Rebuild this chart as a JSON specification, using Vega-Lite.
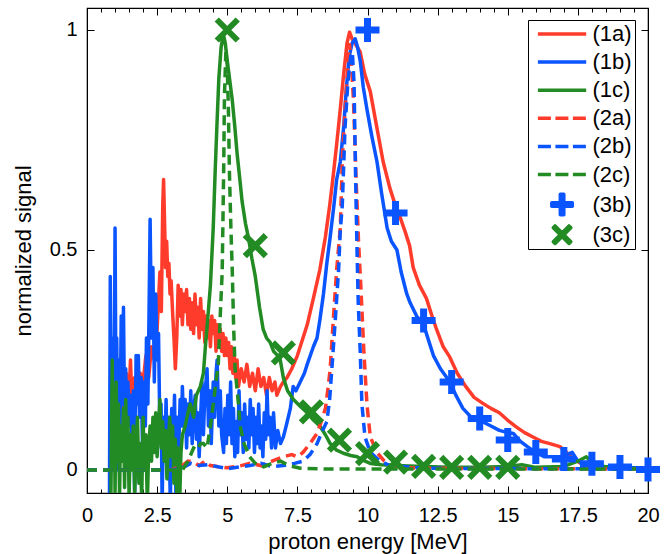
{
"$schema": "https://vega.github.io/schema/vega-lite/v6.json",
"width": 561, "height": 485,
"autosize": {"type": "none"},
"padding": {"left": 87, "top": 8, "right": 20, "bottom": 61},
"background": "white",
"config": {"view": {"stroke": "black", "strokeWidth": 1.2}, "font": "Liberation Sans"},
"datasets": {
"solid": [
{"s":"(1a)","x":0.9,"y":0.05},{"s":"(1a)","x":0.95,"y":0.18},{"s":"(1a)","x":1.0,"y":0.1},{"s":"(1a)","x":1.05,"y":0.22},{"s":"(1a)","x":1.1,"y":0.14},{"s":"(1a)","x":1.2,"y":0.2},{"s":"(1a)","x":1.3,"y":0.12},{"s":"(1a)","x":1.4,"y":0.22},{"s":"(1a)","x":1.5,"y":0.17},{"s":"(1a)","x":1.55,"y":0.25},{"s":"(1a)","x":1.6,"y":0.16},{"s":"(1a)","x":1.7,"y":0.21},{"s":"(1a)","x":1.8,"y":0.16},{"s":"(1a)","x":1.9,"y":0.22},{"s":"(1a)","x":2.0,"y":0.2},{"s":"(1a)","x":2.1,"y":0.26},{"s":"(1a)","x":2.2,"y":0.21},{"s":"(1a)","x":2.3,"y":0.28},{"s":"(1a)","x":2.4,"y":0.25},{"s":"(1a)","x":2.5,"y":0.32},{"s":"(1a)","x":2.6,"y":0.45},{"s":"(1a)","x":2.65,"y":0.36},{"s":"(1a)","x":2.7,"y":0.6},{"s":"(1a)","x":2.73,"y":0.66},{"s":"(1a)","x":2.77,"y":0.55},{"s":"(1a)","x":2.8,"y":0.46},{"s":"(1a)","x":2.84,"y":0.52},{"s":"(1a)","x":2.88,"y":0.44},{"s":"(1a)","x":2.92,"y":0.47},{"s":"(1a)","x":2.96,"y":0.4},{"s":"(1a)","x":3.0,"y":0.43},{"s":"(1a)","x":3.05,"y":0.36},{"s":"(1a)","x":3.1,"y":0.3},{"s":"(1a)","x":3.15,"y":0.23},{"s":"(1a)","x":3.2,"y":0.3},{"s":"(1a)","x":3.25,"y":0.42},{"s":"(1a)","x":3.3,"y":0.35},{"s":"(1a)","x":3.35,"y":0.41},{"s":"(1a)","x":3.4,"y":0.33},{"s":"(1a)","x":3.45,"y":0.4},{"s":"(1a)","x":3.5,"y":0.36},{"s":"(1a)","x":3.55,"y":0.41},{"s":"(1a)","x":3.6,"y":0.33},{"s":"(1a)","x":3.65,"y":0.39},{"s":"(1a)","x":3.7,"y":0.32},{"s":"(1a)","x":3.75,"y":0.38},{"s":"(1a)","x":3.8,"y":0.31},{"s":"(1a)","x":3.85,"y":0.4},{"s":"(1a)","x":3.9,"y":0.33},{"s":"(1a)","x":3.95,"y":0.37},{"s":"(1a)","x":4.0,"y":0.3},{"s":"(1a)","x":4.05,"y":0.39},{"s":"(1a)","x":4.1,"y":0.32},{"s":"(1a)","x":4.15,"y":0.36},{"s":"(1a)","x":4.2,"y":0.29},{"s":"(1a)","x":4.25,"y":0.35},{"s":"(1a)","x":4.3,"y":0.3},{"s":"(1a)","x":4.35,"y":0.34},{"s":"(1a)","x":4.4,"y":0.28},{"s":"(1a)","x":4.45,"y":0.35},{"s":"(1a)","x":4.5,"y":0.31},{"s":"(1a)","x":4.55,"y":0.34},{"s":"(1a)","x":4.6,"y":0.27},{"s":"(1a)","x":4.65,"y":0.33},{"s":"(1a)","x":4.7,"y":0.29},{"s":"(1a)","x":4.75,"y":0.32},{"s":"(1a)","x":4.8,"y":0.27},{"s":"(1a)","x":4.85,"y":0.31},{"s":"(1a)","x":4.9,"y":0.26},{"s":"(1a)","x":4.95,"y":0.3},{"s":"(1a)","x":5.0,"y":0.26},{"s":"(1a)","x":5.05,"y":0.29},{"s":"(1a)","x":5.1,"y":0.23},{"s":"(1a)","x":5.15,"y":0.28},{"s":"(1a)","x":5.2,"y":0.22},{"s":"(1a)","x":5.25,"y":0.26},{"s":"(1a)","x":5.3,"y":0.21},{"s":"(1a)","x":5.35,"y":0.25},{"s":"(1a)","x":5.4,"y":0.19},{"s":"(1a)","x":5.5,"y":0.23},{"s":"(1a)","x":5.6,"y":0.2},{"s":"(1a)","x":5.7,"y":0.24},{"s":"(1a)","x":5.8,"y":0.19},{"s":"(1a)","x":5.9,"y":0.22},{"s":"(1a)","x":6.0,"y":0.18},{"s":"(1a)","x":6.1,"y":0.23},{"s":"(1a)","x":6.2,"y":0.19},{"s":"(1a)","x":6.3,"y":0.21},{"s":"(1a)","x":6.4,"y":0.17},{"s":"(1a)","x":6.5,"y":0.21},{"s":"(1a)","x":6.6,"y":0.18},{"s":"(1a)","x":6.7,"y":0.2},{"s":"(1a)","x":6.77,"y":0.17},{"s":"(1a)","x":6.9,"y":0.19},{"s":"(1a)","x":7.0,"y":0.2},{"s":"(1a)","x":7.13,"y":0.21},{"s":"(1a)","x":7.3,"y":0.23},{"s":"(1a)","x":7.5,"y":0.26},{"s":"(1a)","x":7.7,"y":0.3},{"s":"(1a)","x":7.85,"y":0.33},{"s":"(1a)","x":8.07,"y":0.39},{"s":"(1a)","x":8.3,"y":0.455},{"s":"(1a)","x":8.5,"y":0.53},{"s":"(1a)","x":8.65,"y":0.6},{"s":"(1a)","x":8.78,"y":0.67},{"s":"(1a)","x":8.9,"y":0.74},{"s":"(1a)","x":9.03,"y":0.82},{"s":"(1a)","x":9.15,"y":0.9},{"s":"(1a)","x":9.27,"y":0.97},{"s":"(1a)","x":9.36,"y":0.995},{"s":"(1a)","x":9.45,"y":0.98},{"s":"(1a)","x":9.55,"y":0.97},{"s":"(1a)","x":9.74,"y":0.95},{"s":"(1a)","x":9.9,"y":0.9},{"s":"(1a)","x":10.1,"y":0.86},{"s":"(1a)","x":10.3,"y":0.79},{"s":"(1a)","x":10.56,"y":0.7},{"s":"(1a)","x":10.8,"y":0.64},{"s":"(1a)","x":11.0,"y":0.6},{"s":"(1a)","x":11.16,"y":0.575},{"s":"(1a)","x":11.35,"y":0.54},{"s":"(1a)","x":11.5,"y":0.51},{"s":"(1a)","x":11.63,"y":0.46},{"s":"(1a)","x":11.85,"y":0.42},{"s":"(1a)","x":12.1,"y":0.39},{"s":"(1a)","x":12.3,"y":0.35},{"s":"(1a)","x":12.46,"y":0.32},{"s":"(1a)","x":12.7,"y":0.28},{"s":"(1a)","x":12.93,"y":0.257},{"s":"(1a)","x":13.2,"y":0.22},{"s":"(1a)","x":13.5,"y":0.19},{"s":"(1a)","x":13.8,"y":0.165},{"s":"(1a)","x":14.1,"y":0.152},{"s":"(1a)","x":14.4,"y":0.14},{"s":"(1a)","x":14.7,"y":0.13},{"s":"(1a)","x":15.0,"y":0.113},{"s":"(1a)","x":15.3,"y":0.098},{"s":"(1a)","x":15.6,"y":0.085},{"s":"(1a)","x":15.9,"y":0.075},{"s":"(1a)","x":16.2,"y":0.065},{"s":"(1a)","x":16.5,"y":0.06},{"s":"(1a)","x":16.86,"y":0.053},{"s":"(1a)","x":17.1,"y":0.04},{"s":"(1a)","x":17.3,"y":0.027},{"s":"(1a)","x":17.6,"y":0.015},{"s":"(1a)","x":18.0,"y":0.01},{"s":"(1a)","x":18.3,"y":0.008},{"s":"(1a)","x":19.0,"y":0.005},{"s":"(1a)","x":20.0,"y":0.004},
{"s":"(1b)","x":0.8,"y":-0.08},{"s":"(1b)","x":0.83,"y":0.44},{"s":"(1b)","x":0.87,"y":0.1},{"s":"(1b)","x":0.92,"y":0.3},{"s":"(1b)","x":0.96,"y":0.05},{"s":"(1b)","x":1.0,"y":0.55},{"s":"(1b)","x":1.03,"y":0.2},{"s":"(1b)","x":1.06,"y":0.3},{"s":"(1b)","x":1.1,"y":0.0},{"s":"(1b)","x":1.14,"y":0.25},{"s":"(1b)","x":1.18,"y":0.1},{"s":"(1b)","x":1.22,"y":0.35},{"s":"(1b)","x":1.26,"y":0.15},{"s":"(1b)","x":1.3,"y":0.37},{"s":"(1b)","x":1.34,"y":0.12},{"s":"(1b)","x":1.38,"y":0.23},{"s":"(1b)","x":1.42,"y":0.05},{"s":"(1b)","x":1.46,"y":0.2},{"s":"(1b)","x":1.5,"y":0.1},{"s":"(1b)","x":1.55,"y":0.17},{"s":"(1b)","x":1.6,"y":0.08},{"s":"(1b)","x":1.65,"y":0.18},{"s":"(1b)","x":1.7,"y":-0.06},{"s":"(1b)","x":1.75,"y":0.26},{"s":"(1b)","x":1.8,"y":0.15},{"s":"(1b)","x":1.83,"y":0.26},{"s":"(1b)","x":1.88,"y":0.12},{"s":"(1b)","x":1.93,"y":0.21},{"s":"(1b)","x":1.98,"y":0.05},{"s":"(1b)","x":2.03,"y":0.2},{"s":"(1b)","x":2.08,"y":0.1},{"s":"(1b)","x":2.12,"y":0.3},{"s":"(1b)","x":2.17,"y":0.15},{"s":"(1b)","x":2.21,"y":0.35},{"s":"(1b)","x":2.25,"y":0.57},{"s":"(1b)","x":2.3,"y":0.3},{"s":"(1b)","x":2.35,"y":0.46},{"s":"(1b)","x":2.4,"y":0.2},{"s":"(1b)","x":2.45,"y":0.4},{"s":"(1b)","x":2.5,"y":0.25},{"s":"(1b)","x":2.55,"y":0.31},{"s":"(1b)","x":2.6,"y":0.08},{"s":"(1b)","x":2.64,"y":0.15},{"s":"(1b)","x":2.68,"y":-0.08},{"s":"(1b)","x":2.72,"y":0.12},{"s":"(1b)","x":2.77,"y":0.05},{"s":"(1b)","x":2.82,"y":0.16},{"s":"(1b)","x":2.87,"y":-0.02},{"s":"(1b)","x":2.92,"y":0.12},{"s":"(1b)","x":2.97,"y":-0.08},{"s":"(1b)","x":3.02,"y":0.14},{"s":"(1b)","x":3.07,"y":0.05},{"s":"(1b)","x":3.12,"y":0.17},{"s":"(1b)","x":3.17,"y":-0.06},{"s":"(1b)","x":3.22,"y":0.12},{"s":"(1b)","x":3.27,"y":0.05},{"s":"(1b)","x":3.32,"y":0.16},{"s":"(1b)","x":3.37,"y":0.1},{"s":"(1b)","x":3.4,"y":0.19},{"s":"(1b)","x":3.45,"y":0.1},{"s":"(1b)","x":3.5,"y":0.16},{"s":"(1b)","x":3.55,"y":0.05},{"s":"(1b)","x":3.6,"y":0.15},{"s":"(1b)","x":3.65,"y":0.08},{"s":"(1b)","x":3.7,"y":0.18},{"s":"(1b)","x":3.75,"y":0.06},{"s":"(1b)","x":3.8,"y":0.14},{"s":"(1b)","x":3.86,"y":0.17},{"s":"(1b)","x":3.9,"y":0.07},{"s":"(1b)","x":3.95,"y":0.13},{"s":"(1b)","x":4.0,"y":0.03},{"s":"(1b)","x":4.05,"y":0.12},{"s":"(1b)","x":4.1,"y":0.2},{"s":"(1b)","x":4.15,"y":0.08},{"s":"(1b)","x":4.2,"y":0.17},{"s":"(1b)","x":4.28,"y":0.23},{"s":"(1b)","x":4.33,"y":0.1},{"s":"(1b)","x":4.38,"y":0.18},{"s":"(1b)","x":4.43,"y":0.06},{"s":"(1b)","x":4.5,"y":0.2},{"s":"(1b)","x":4.55,"y":0.12},{"s":"(1b)","x":4.6,"y":0.22},{"s":"(1b)","x":4.64,"y":0.25},{"s":"(1b)","x":4.7,"y":0.1},{"s":"(1b)","x":4.75,"y":0.18},{"s":"(1b)","x":4.8,"y":0.08},{"s":"(1b)","x":4.87,"y":0.04},{"s":"(1b)","x":4.92,"y":0.14},{"s":"(1b)","x":4.97,"y":0.06},{"s":"(1b)","x":5.02,"y":0.17},{"s":"(1b)","x":5.07,"y":0.08},{"s":"(1b)","x":5.12,"y":0.2},{"s":"(1b)","x":5.17,"y":0.06},{"s":"(1b)","x":5.22,"y":0.14},{"s":"(1b)","x":5.27,"y":0.03},{"s":"(1b)","x":5.32,"y":0.11},{"s":"(1b)","x":5.37,"y":0.04},{"s":"(1b)","x":5.42,"y":0.18},{"s":"(1b)","x":5.47,"y":0.08},{"s":"(1b)","x":5.52,"y":0.13},{"s":"(1b)","x":5.57,"y":0.04},{"s":"(1b)","x":5.62,"y":0.15},{"s":"(1b)","x":5.67,"y":0.07},{"s":"(1b)","x":5.72,"y":0.12},{"s":"(1b)","x":5.77,"y":0.05},{"s":"(1b)","x":5.82,"y":0.16},{"s":"(1b)","x":5.87,"y":0.08},{"s":"(1b)","x":5.92,"y":0.14},{"s":"(1b)","x":5.97,"y":0.04},{"s":"(1b)","x":6.02,"y":0.12},{"s":"(1b)","x":6.07,"y":0.06},{"s":"(1b)","x":6.12,"y":0.15},{"s":"(1b)","x":6.17,"y":0.05},{"s":"(1b)","x":6.22,"y":0.1},{"s":"(1b)","x":6.27,"y":0.03},{"s":"(1b)","x":6.32,"y":0.13},{"s":"(1b)","x":6.37,"y":0.07},{"s":"(1b)","x":6.42,"y":0.18},{"s":"(1b)","x":6.47,"y":0.08},{"s":"(1b)","x":6.52,"y":0.12},{"s":"(1b)","x":6.58,"y":0.05},{"s":"(1b)","x":6.65,"y":0.13},{"s":"(1b)","x":6.72,"y":0.05},{"s":"(1b)","x":6.8,"y":0.09},{"s":"(1b)","x":6.9,"y":0.06},{"s":"(1b)","x":7.0,"y":0.075},{"s":"(1b)","x":7.1,"y":0.1},{"s":"(1b)","x":7.25,"y":0.14},{"s":"(1b)","x":7.35,"y":0.19},{"s":"(1b)","x":7.45,"y":0.18},{"s":"(1b)","x":7.6,"y":0.2},{"s":"(1b)","x":7.75,"y":0.22},{"s":"(1b)","x":7.85,"y":0.24},{"s":"(1b)","x":8.07,"y":0.28},{"s":"(1b)","x":8.2,"y":0.3},{"s":"(1b)","x":8.3,"y":0.34},{"s":"(1b)","x":8.43,"y":0.4},{"s":"(1b)","x":8.55,"y":0.47},{"s":"(1b)","x":8.67,"y":0.53},{"s":"(1b)","x":8.8,"y":0.6},{"s":"(1b)","x":8.9,"y":0.66},{"s":"(1b)","x":9.03,"y":0.7},{"s":"(1b)","x":9.15,"y":0.78},{"s":"(1b)","x":9.25,"y":0.87},{"s":"(1b)","x":9.35,"y":0.94},{"s":"(1b)","x":9.45,"y":0.97},{"s":"(1b)","x":9.56,"y":0.98},{"s":"(1b)","x":9.65,"y":0.96},{"s":"(1b)","x":9.74,"y":0.93},{"s":"(1b)","x":9.85,"y":0.87},{"s":"(1b)","x":9.98,"y":0.82},{"s":"(1b)","x":10.15,"y":0.76},{"s":"(1b)","x":10.34,"y":0.7},{"s":"(1b)","x":10.5,"y":0.63},{"s":"(1b)","x":10.7,"y":0.55},{"s":"(1b)","x":10.85,"y":0.52},{"s":"(1b)","x":11.05,"y":0.5},{"s":"(1b)","x":11.2,"y":0.45},{"s":"(1b)","x":11.4,"y":0.4},{"s":"(1b)","x":11.52,"y":0.38},{"s":"(1b)","x":11.75,"y":0.35},{"s":"(1b)","x":12.0,"y":0.33},{"s":"(1b)","x":12.2,"y":0.29},{"s":"(1b)","x":12.35,"y":0.26},{"s":"(1b)","x":12.6,"y":0.23},{"s":"(1b)","x":12.94,"y":0.2},{"s":"(1b)","x":13.15,"y":0.17},{"s":"(1b)","x":13.4,"y":0.14},{"s":"(1b)","x":13.7,"y":0.12},{"s":"(1b)","x":14.1,"y":0.11},{"s":"(1b)","x":14.4,"y":0.1},{"s":"(1b)","x":14.7,"y":0.09},{"s":"(1b)","x":15.0,"y":0.085},{"s":"(1b)","x":15.2,"y":0.083},{"s":"(1b)","x":15.45,"y":0.065},{"s":"(1b)","x":15.7,"y":0.053},{"s":"(1b)","x":16.0,"y":0.04},{"s":"(1b)","x":16.3,"y":0.03},{"s":"(1b)","x":16.6,"y":0.03},{"s":"(1b)","x":16.86,"y":0.03},{"s":"(1b)","x":17.1,"y":0.035},{"s":"(1b)","x":17.3,"y":0.04},{"s":"(1b)","x":17.5,"y":0.02},{"s":"(1b)","x":17.7,"y":0.015},{"s":"(1b)","x":18.2,"y":0.008},{"s":"(1b)","x":19.0,"y":0.006},{"s":"(1b)","x":20.0,"y":0.004},
{"s":"(1c)","x":0.85,"y":-0.08},{"s":"(1c)","x":0.9,"y":0.25},{"s":"(1c)","x":0.93,"y":0.0},{"s":"(1c)","x":0.97,"y":0.18},{"s":"(1c)","x":1.0,"y":-0.05},{"s":"(1c)","x":1.04,"y":0.2},{"s":"(1c)","x":1.08,"y":0.02},{"s":"(1c)","x":1.12,"y":0.15},{"s":"(1c)","x":1.16,"y":-0.06},{"s":"(1c)","x":1.2,"y":0.1},{"s":"(1c)","x":1.25,"y":0.02},{"s":"(1c)","x":1.3,"y":0.14},{"s":"(1c)","x":1.34,"y":-0.04},{"s":"(1c)","x":1.38,"y":0.16},{"s":"(1c)","x":1.42,"y":0.0},{"s":"(1c)","x":1.46,"y":0.12},{"s":"(1c)","x":1.5,"y":-0.06},{"s":"(1c)","x":1.55,"y":0.08},{"s":"(1c)","x":1.6,"y":0.0},{"s":"(1c)","x":1.65,"y":0.1},{"s":"(1c)","x":1.7,"y":-0.05},{"s":"(1c)","x":1.75,"y":0.05},{"s":"(1c)","x":1.8,"y":0.12},{"s":"(1c)","x":1.85,"y":-0.03},{"s":"(1c)","x":1.9,"y":0.06},{"s":"(1c)","x":1.95,"y":-0.07},{"s":"(1c)","x":2.0,"y":0.12},{"s":"(1c)","x":2.05,"y":0.0},{"s":"(1c)","x":2.1,"y":0.08},{"s":"(1c)","x":2.15,"y":-0.08},{"s":"(1c)","x":2.2,"y":0.05},{"s":"(1c)","x":2.25,"y":0.1},{"s":"(1c)","x":2.3,"y":0.02},{"s":"(1c)","x":2.35,"y":0.12},{"s":"(1c)","x":2.4,"y":0.04},{"s":"(1c)","x":2.45,"y":0.13},{"s":"(1c)","x":2.5,"y":0.03},{"s":"(1c)","x":2.55,"y":0.1},{"s":"(1c)","x":2.6,"y":0.16},{"s":"(1c)","x":2.65,"y":0.05},{"s":"(1c)","x":2.7,"y":0.11},{"s":"(1c)","x":2.75,"y":0.02},{"s":"(1c)","x":2.8,"y":0.09},{"s":"(1c)","x":2.85,"y":-0.02},{"s":"(1c)","x":2.9,"y":0.06},{"s":"(1c)","x":2.95,"y":0.12},{"s":"(1c)","x":3.0,"y":0.03},{"s":"(1c)","x":3.05,"y":0.1},{"s":"(1c)","x":3.1,"y":-0.03},{"s":"(1c)","x":3.15,"y":0.07},{"s":"(1c)","x":3.2,"y":-0.05},{"s":"(1c)","x":3.25,"y":0.05},{"s":"(1c)","x":3.3,"y":-0.08},{"s":"(1c)","x":3.35,"y":0.04},{"s":"(1c)","x":3.4,"y":0.08},{"s":"(1c)","x":3.5,"y":0.1},{"s":"(1c)","x":3.6,"y":0.13},{"s":"(1c)","x":3.68,"y":0.15},{"s":"(1c)","x":3.8,"y":0.12},{"s":"(1c)","x":3.9,"y":0.17},{"s":"(1c)","x":4.04,"y":0.19},{"s":"(1c)","x":4.15,"y":0.22},{"s":"(1c)","x":4.22,"y":0.28},{"s":"(1c)","x":4.3,"y":0.34},{"s":"(1c)","x":4.4,"y":0.42},{"s":"(1c)","x":4.5,"y":0.55},{"s":"(1c)","x":4.57,"y":0.68},{"s":"(1c)","x":4.63,"y":0.78},{"s":"(1c)","x":4.7,"y":0.89},{"s":"(1c)","x":4.78,"y":0.96},{"s":"(1c)","x":4.86,"y":0.99},{"s":"(1c)","x":4.93,"y":0.97},{"s":"(1c)","x":5.0,"y":0.93},{"s":"(1c)","x":5.1,"y":0.88},{"s":"(1c)","x":5.18,"y":0.84},{"s":"(1c)","x":5.27,"y":0.78},{"s":"(1c)","x":5.35,"y":0.72},{"s":"(1c)","x":5.45,"y":0.66},{"s":"(1c)","x":5.53,"y":0.61},{"s":"(1c)","x":5.65,"y":0.56},{"s":"(1c)","x":5.75,"y":0.53},{"s":"(1c)","x":5.88,"y":0.48},{"s":"(1c)","x":6.0,"y":0.44},{"s":"(1c)","x":6.15,"y":0.37},{"s":"(1c)","x":6.28,"y":0.32},{"s":"(1c)","x":6.4,"y":0.3},{"s":"(1c)","x":6.53,"y":0.29},{"s":"(1c)","x":6.65,"y":0.27},{"s":"(1c)","x":6.8,"y":0.26},{"s":"(1c)","x":6.89,"y":0.25},{"s":"(1c)","x":7.0,"y":0.21},{"s":"(1c)","x":7.15,"y":0.18},{"s":"(1c)","x":7.36,"y":0.16},{"s":"(1c)","x":7.6,"y":0.145},{"s":"(1c)","x":7.85,"y":0.13},{"s":"(1c)","x":8.05,"y":0.115},{"s":"(1c)","x":8.3,"y":0.1},{"s":"(1c)","x":8.5,"y":0.08},{"s":"(1c)","x":8.67,"y":0.06},{"s":"(1c)","x":8.9,"y":0.045},{"s":"(1c)","x":9.14,"y":0.038},{"s":"(1c)","x":9.4,"y":0.033},{"s":"(1c)","x":9.63,"y":0.03},{"s":"(1c)","x":9.85,"y":0.022},{"s":"(1c)","x":10.1,"y":0.015},{"s":"(1c)","x":10.5,"y":0.012},{"s":"(1c)","x":11.0,"y":0.01},{"s":"(1c)","x":12.0,"y":0.008},{"s":"(1c)","x":13.0,"y":0.006},{"s":"(1c)","x":14.0,"y":0.006},{"s":"(1c)","x":15.0,"y":0.008},{"s":"(1c)","x":15.5,"y":0.012},{"s":"(1c)","x":16.0,"y":0.006},{"s":"(1c)","x":17.0,"y":0.008},{"s":"(1c)","x":17.5,"y":0.02},{"s":"(1c)","x":17.8,"y":0.03},{"s":"(1c)","x":18.1,"y":0.01},{"s":"(1c)","x":19.0,"y":0.004},{"s":"(1c)","x":20.0,"y":0.003}
],
"dashed": [
{"s":"(2a)","x":0,"y":0.0},{"s":"(2a)","x":3.0,"y":0.0},{"s":"(2a)","x":3.4,"y":0.01},{"s":"(2a)","x":3.6,"y":0.02},{"s":"(2a)","x":3.8,"y":0.018},{"s":"(2a)","x":4.0,"y":0.01},{"s":"(2a)","x":4.2,"y":0.02},{"s":"(2a)","x":4.4,"y":0.01},{"s":"(2a)","x":5.0,"y":0.005},{"s":"(2a)","x":5.5,"y":0.01},{"s":"(2a)","x":5.8,"y":0.015},{"s":"(2a)","x":6.2,"y":0.01},{"s":"(2a)","x":6.6,"y":0.02},{"s":"(2a)","x":7.0,"y":0.03},{"s":"(2a)","x":7.3,"y":0.035},{"s":"(2a)","x":7.5,"y":0.03},{"s":"(2a)","x":7.7,"y":0.04},{"s":"(2a)","x":7.95,"y":0.06},{"s":"(2a)","x":8.2,"y":0.083},{"s":"(2a)","x":8.35,"y":0.11},{"s":"(2a)","x":8.5,"y":0.14},{"s":"(2a)","x":8.6,"y":0.19},{"s":"(2a)","x":8.67,"y":0.23},{"s":"(2a)","x":8.78,"y":0.34},{"s":"(2a)","x":8.9,"y":0.455},{"s":"(2a)","x":9.03,"y":0.55},{"s":"(2a)","x":9.1,"y":0.7},{"s":"(2a)","x":9.2,"y":0.82},{"s":"(2a)","x":9.27,"y":0.89},{"s":"(2a)","x":9.35,"y":0.97},{"s":"(2a)","x":9.42,"y":0.93},{"s":"(2a)","x":9.5,"y":0.84},{"s":"(2a)","x":9.6,"y":0.65},{"s":"(2a)","x":9.68,"y":0.52},{"s":"(2a)","x":9.76,"y":0.42},{"s":"(2a)","x":9.87,"y":0.27},{"s":"(2a)","x":9.98,"y":0.15},{"s":"(2a)","x":10.1,"y":0.075},{"s":"(2a)","x":10.34,"y":0.04},{"s":"(2a)","x":10.6,"y":0.02},{"s":"(2a)","x":10.8,"y":0.012},{"s":"(2a)","x":11.2,"y":0.006},{"s":"(2a)","x":12.0,"y":0.004},{"s":"(2a)","x":20.0,"y":0.002},
{"s":"(2b)","x":0,"y":0.0},{"s":"(2b)","x":3.0,"y":0.0},{"s":"(2b)","x":3.4,"y":0.005},{"s":"(2b)","x":3.7,"y":0.015},{"s":"(2b)","x":4.0,"y":0.01},{"s":"(2b)","x":4.3,"y":0.012},{"s":"(2b)","x":5.0,"y":0.003},{"s":"(2b)","x":5.8,"y":0.01},{"s":"(2b)","x":6.2,"y":0.015},{"s":"(2b)","x":6.6,"y":0.008},{"s":"(2b)","x":7.0,"y":0.01},{"s":"(2b)","x":7.4,"y":0.015},{"s":"(2b)","x":7.7,"y":0.02},{"s":"(2b)","x":7.95,"y":0.035},{"s":"(2b)","x":8.2,"y":0.06},{"s":"(2b)","x":8.4,"y":0.09},{"s":"(2b)","x":8.55,"y":0.11},{"s":"(2b)","x":8.65,"y":0.16},{"s":"(2b)","x":8.73,"y":0.23},{"s":"(2b)","x":8.85,"y":0.34},{"s":"(2b)","x":8.97,"y":0.455},{"s":"(2b)","x":9.03,"y":0.545},{"s":"(2b)","x":9.1,"y":0.6},{"s":"(2b)","x":9.2,"y":0.78},{"s":"(2b)","x":9.3,"y":0.88},{"s":"(2b)","x":9.4,"y":0.94},{"s":"(2b)","x":9.46,"y":0.95},{"s":"(2b)","x":9.52,"y":0.88},{"s":"(2b)","x":9.58,"y":0.65},{"s":"(2b)","x":9.63,"y":0.49},{"s":"(2b)","x":9.67,"y":0.38},{"s":"(2b)","x":9.74,"y":0.27},{"s":"(2b)","x":9.8,"y":0.15},{"s":"(2b)","x":9.91,"y":0.075},{"s":"(2b)","x":10.1,"y":0.04},{"s":"(2b)","x":10.45,"y":0.02},{"s":"(2b)","x":10.8,"y":0.01},{"s":"(2b)","x":12.0,"y":0.004},{"s":"(2b)","x":20.0,"y":0.002},
{"s":"(2c)","x":0,"y":0.0},{"s":"(2c)","x":3.4,"y":0.0},{"s":"(2c)","x":3.6,"y":0.02},{"s":"(2c)","x":3.8,"y":0.05},{"s":"(2c)","x":3.93,"y":0.045},{"s":"(2c)","x":4.05,"y":0.06},{"s":"(2c)","x":4.15,"y":0.06},{"s":"(2c)","x":4.28,"y":0.05},{"s":"(2c)","x":4.4,"y":0.1},{"s":"(2c)","x":4.5,"y":0.15},{"s":"(2c)","x":4.6,"y":0.2},{"s":"(2c)","x":4.68,"y":0.24},{"s":"(2c)","x":4.75,"y":0.35},{"s":"(2c)","x":4.82,"y":0.45},{"s":"(2c)","x":4.87,"y":0.67},{"s":"(2c)","x":4.9,"y":0.85},{"s":"(2c)","x":4.95,"y":0.95},{"s":"(2c)","x":5.0,"y":0.92},{"s":"(2c)","x":5.04,"y":0.82},{"s":"(2c)","x":5.08,"y":0.67},{"s":"(2c)","x":5.13,"y":0.55},{"s":"(2c)","x":5.18,"y":0.45},{"s":"(2c)","x":5.23,"y":0.32},{"s":"(2c)","x":5.28,"y":0.23},{"s":"(2c)","x":5.4,"y":0.15},{"s":"(2c)","x":5.46,"y":0.1},{"s":"(2c)","x":5.6,"y":0.06},{"s":"(2c)","x":5.8,"y":0.03},{"s":"(2c)","x":6.0,"y":0.015},{"s":"(2c)","x":6.3,"y":0.007},{"s":"(2c)","x":6.6,"y":0.015},{"s":"(2c)","x":6.9,"y":0.02},{"s":"(2c)","x":7.2,"y":0.01},{"s":"(2c)","x":7.6,"y":0.004},{"s":"(2c)","x":8.5,"y":0.002},{"s":"(2c)","x":20.0,"y":0.002}
],
"plus": [
{"s":"(3b)","x":10,"y":1.0},{"s":"(3b)","x":11,"y":0.584},{"s":"(3b)","x":12,"y":0.34},{"s":"(3b)","x":13,"y":0.2},{"s":"(3b)","x":14,"y":0.117},{"s":"(3b)","x":15,"y":0.068},{"s":"(3b)","x":16,"y":0.041},{"s":"(3b)","x":17,"y":0.025},{"s":"(3b)","x":18,"y":0.014},{"s":"(3b)","x":19,"y":0.007},{"s":"(3b)","x":20,"y":0.001}
],
"cross": [
{"s":"(3c)","x":5,"y":1.0},{"s":"(3c)","x":6,"y":0.51},{"s":"(3c)","x":7,"y":0.266},{"s":"(3c)","x":8,"y":0.132},{"s":"(3c)","x":9,"y":0.068},{"s":"(3c)","x":10,"y":0.037},{"s":"(3c)","x":11,"y":0.018},{"s":"(3c)","x":12,"y":0.008},{"s":"(3c)","x":13,"y":0.006},{"s":"(3c)","x":14,"y":0.006},{"s":"(3c)","x":15,"y":0.006}
]
},
"encoding": {
"color": {"field": "s", "type": "nominal",
  "scale": {"domain": ["(1a)","(1b)","(1c)","(2a)","(2b)","(2c)","(3b)","(3c)"], "range": ["#ff3b2b","#0a55ff","#238b23","#ff3b2b","#0a55ff","#238b23","#0a55ff","#238b23"]},
  "legend": {"title": null, "orient": "none", "legendX": 441, "legendY": 12, "padding": 3, "strokeColor": "black", "fillColor": "white",
    "labelFontSize": 22, "labelColor": "black", "labelFont": "Liberation Sans", "labelOffset": 39.4, "labelLimit": 300,
    "labelExpr": "datum.label + ' '",
    "symbolType": "stroke", "symbolSize": 289, "symbolStrokeWidth": 3.5, "rowPadding": 6.1,
    "encode": {"symbols": {"update": {
      "size": {"value": 289},
      "strokeWidth": {"value": 3.5},
      "strokeJoin": {"value": "round"},
      "shape": {"signal": "datum.value === '(3b)' ? 'M1.153,-0.206L2.153,-0.206L2.153,-1.206L2.565,-1.206L2.565,-0.206L3.565,-0.206L3.565,0.206L2.565,0.206L2.565,1.206L2.153,1.206L2.153,0.206L1.153,0.206Z' : datum.value === '(3c)' ? 'M1.537,-1.031L2.359,-0.209L3.181,-1.031L3.39,-0.822L2.568,0L3.39,0.822L3.181,1.031L2.359,0.209L1.537,1.031L1.328,0.822L2.15,0L1.328,-0.822Z' : 'M-0.482,0L5.2,0'"},
      "strokeDash": {"signal": "indexof(['(2a)','(2b)','(2c)'], datum.value) >= 0 ? [13,4.5] : []"},
      "fill": {"signal": "datum.value === '(3b)' || datum.value === '(3c)' ? scale('color', datum.value) : 'transparent'"}
    }}}}
}
},
"layer": [
{"data": {"name": "solid"},
 "mark": {"type": "line", "strokeWidth": 3.5, "clip": true, "strokeJoin": "round"},
 "encoding": {
  "x": {"field": "x", "type": "quantitative", "scale": {"domain": [0, 20], "nice": false, "zero": false},
    "axis": {"orient": "bottom", "values": [0,0.5,1,1.5,2,2.5,3,3.5,4,4.5,5,5.5,6,6.5,7,7.5,8,8.5,9,9.5,10,10.5,11,11.5,12,12.5,13,13.5,14,14.5,15,15.5,16,16.5,17,17.5,18,18.5,19,19.5,20],
      "format": "~g", "labelExpr": "datum.value % 2.5 === 0 ? datum.label : ''",
      "tickSize": {"condition": {"test": "datum.value % 2.5 === 0", "value": -7}, "value": -4},
      "labelPadding": 19, "labelFlush": false, "labelOverlap": false, "grid": false,
      "domainColor": "black", "tickColor": "black", "labelColor": "black", "labelFontSize": 20, "labelFont": "Liberation Sans",
      "title": "proton energy [MeV]", "titleFontSize": 22, "titleFontWeight": "normal", "titleColor": "black", "titleFont": "Liberation Sans", "titlePadding": 3}},
  "y": {"field": "y", "type": "quantitative", "scale": {"domain": [-0.0523, 1.05], "nice": false, "zero": false},
    "axis": {"orient": "left", "values": [0, 0.5, 1], "format": "~g", "tickSize": -7, "labelPadding": 17, "grid": false,
      "domainColor": "black", "tickColor": "black", "labelColor": "black", "labelFontSize": 20, "labelFont": "Liberation Sans",
      "title": "normalized signal", "titleFontSize": 22, "titleFontWeight": "normal", "titleColor": "black", "titleFont": "Liberation Sans", "titlePadding": 14}}
 }},
{"data": {"name": "dashed"},
 "mark": {"type": "line", "strokeWidth": 3.5, "clip": true, "strokeDash": [10, 6]},
 "encoding": {
  "x": {"field": "x", "type": "quantitative",
    "axis": {"orient": "top", "values": [0,0.5,1,1.5,2,2.5,3,3.5,4,4.5,5,5.5,6,6.5,7,7.5,8,8.5,9,9.5,10,10.5,11,11.5,12,12.5,13,13.5,14,14.5,15,15.5,16,16.5,17,17.5,18,18.5,19,19.5,20],
      "labels": false, "title": null, "grid": false, "domainColor": "black", "tickColor": "black",
      "tickSize": {"condition": {"test": "datum.value % 2.5 === 0", "value": -7}, "value": -4}}},
  "y": {"field": "y", "type": "quantitative",
    "axis": {"orient": "right", "values": [0, 0.5, 1], "labels": false, "title": null, "grid": false, "tickSize": -7, "domainColor": "black", "tickColor": "black"}}
 }},
{"data": {"name": "plus"},
 "mark": {"type": "point", "shape": "M-1,0L1,0M0,-1L0,1", "size": 576, "strokeWidth": 7, "filled": false, "opacity": 1},
 "encoding": {
  "x": {"field": "x", "type": "quantitative", "axis": null},
  "y": {"field": "y", "type": "quantitative", "axis": null}
 }},
{"data": {"name": "cross"},
 "mark": {"type": "point", "shape": "M-1,-1L1,1M-1,1L1,-1", "size": 441, "strokeWidth": 6, "filled": false, "opacity": 1},
 "encoding": {
  "x": {"field": "x", "type": "quantitative", "axis": null},
  "y": {"field": "y", "type": "quantitative", "axis": null}
 }}
],
"resolve": {"axis": {"x": "independent", "y": "independent"}}
}
